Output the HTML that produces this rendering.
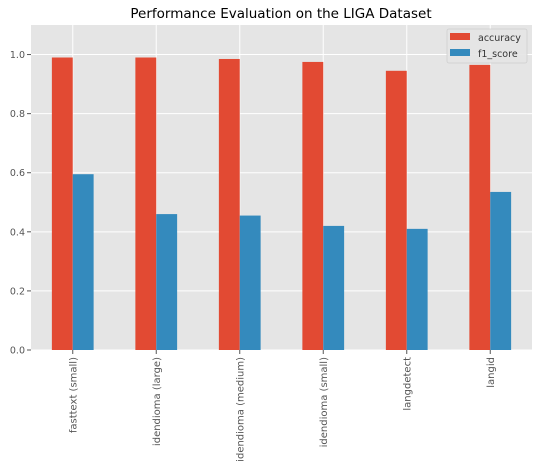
<!DOCTYPE html>
<html><head><meta charset="utf-8"><style>
body{margin:0;background:#fff;font-family:"DejaVu Sans","Liberation Sans",sans-serif}
</style></head><body>
<svg id="chart" width="539" height="469" xmlns="http://www.w3.org/2000/svg" font-family="DejaVu Sans, Liberation Sans, sans-serif">
<rect x="0" y="0" width="539" height="469" fill="#fff"/>
<text x="281" y="18" text-anchor="middle" font-size="13.5" fill="#000">Performance Evaluation on the LIGA Dataset</text>
<rect x="31" y="25" width="501" height="325" fill="#e5e5e5"/>
<g id="grid"></g><g id="bars"></g><g id="axes"></g>
<g>
<rect x="447" y="29" width="80" height="34" fill="#e5e5e5" stroke="#ccc" stroke-width="0.8" rx="2" opacity="0.9"/>
<rect x="450" y="33" width="20" height="7" fill="#E24A33"/>
<text x="478" y="41" font-size="9.5" fill="#333">accuracy</text>
<rect x="450" y="49" width="20" height="7" fill="#348ABD"/>
<text x="478" y="57" font-size="9.5" fill="#333">f1_score</text>
</g>
</svg>
<script>
const categories=["fasttext (small)","idendioma (large)","idendioma (medium)","idendioma (small)","langdetect","langid"];
const accuracy=[0.99,0.99,0.985,0.975,0.945,0.965];
const f1Score=[0.595,0.46,0.455,0.42,0.41,0.535];
const yTicks=[0.0,0.2,0.4,0.6,0.8,1.0];
const NS="http://www.w3.org/2000/svg";
const L=31,R=532,T=25,B=350,YMAX=1.1;
const band=(R-L)/categories.length;
function y(v){return B-(v/YMAX)*(B-T);}
function xc(i){return L+band*(i+0.5);}
function mk(tag,at,parent){const e=document.createElementNS(NS,tag);for(const k in at)e.setAttribute(k,at[k]);parent.appendChild(e);return e;}
const grid=document.getElementById('grid'),bars=document.getElementById('bars'),axes=document.getElementById('axes');
yTicks.forEach(t=>{
 const g=mk('line',{x1:L,x2:R,y1:y(t),y2:y(t),stroke:'#fff','stroke-width':1},grid);
 
 
 const tk=mk('line',{x1:L-4,x2:L,y1:y(t),y2:y(t),stroke:'#555'},axes);
 
 
 const tx=mk('text',{x:L-6,y:y(t)+3.5,'text-anchor':'end','font-size':9.5,fill:'#555'},axes);
 tx.textContent=t.toFixed(1);
 
 
});
categories.forEach((c,i)=>{
 const cx=xc(i),w=band*0.25;
 const gl=mk('line',{x1:cx,x2:cx,y1:T,y2:B,stroke:'#fff','stroke-width':1},grid);
 
 
 const a=mk('rect',{x:cx-w,y:y(accuracy[i]),width:w,height:B-y(accuracy[i]),fill:'#E24A33'},bars);
 
 
 const f=mk('rect',{x:cx,y:y(f1Score[i]),width:w,height:B-y(f1Score[i]),fill:'#348ABD'},bars);
 
 
 const tk=mk('line',{x1:cx,x2:cx,y1:B,y2:B+4,stroke:'#555'},axes);
 
 
 const tx=mk('text',{x:0,y:0,'text-anchor':'end','font-size':10,fill:'#555',transform:`translate(${cx+3.5},${B+7}) rotate(-90)`},axes);
 tx.textContent=c;
 
 
});
</script>
</body></html>
